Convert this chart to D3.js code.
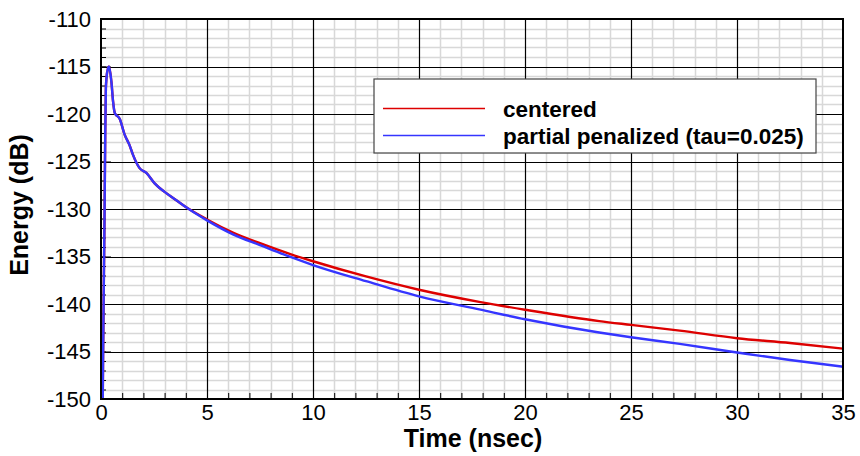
<!DOCTYPE html>
<html>
<head>
<meta charset="utf-8">
<script src="https://cdn.jsdelivr.net/npm/d3@7"></script>
<style>
  body { margin: 0; background: #fff; }
  svg { font-family: "Liberation Sans", Arial, sans-serif; }
</style>
</head>
<body>
<div id="chart"></div>
<script>
// time (nsec) sample points
var times = [0.05, 0.1, 0.17, 0.2, 0.23, 0.26, 0.33, 0.38, 0.49, 0.57, 0.65, 0.88, 1.12, 1.35, 1.51, 1.82, 2.14, 2.53, 3.0, 3.5, 4.0,
  5.0, 6.25, 7.5, 9.0, 10.0, 12.5, 15.0, 17.9, 20.0, 23.5, 25.0, 27.3, 30.0, 32.5, 35.0];
var centered = [-160, -145, -130, -122, -117.3, -116.2, -115.2, -115.0, -116.6, -118.7, -119.9, -120.5, -122.2, -123.3, -124.3, -125.7, -126.2, -127.3, -128.2, -129.0, -129.8,
  -131.1, -132.5, -133.6, -134.8, -135.5, -137.1, -138.5, -139.8, -140.6, -141.8, -142.2, -142.8, -143.6, -144.1, -144.7];
var penalized = [-160, -145, -130, -122, -117.3, -116.2, -115.2, -115.0, -116.6, -118.7, -119.9, -120.5, -122.2, -123.3, -124.3, -125.7, -126.2, -127.3, -128.2, -129.0, -129.8,
  -131.2, -132.7, -133.8, -135.1, -135.9, -137.6, -139.2, -140.6, -141.6, -143.0, -143.5, -144.2, -145.1, -145.9, -146.6];
var seriesNames = ["centered", "partial penalized (tau=0.025)"];
var xTicks = [0, 5, 10, 15, 20, 25, 30, 35];
var yTicks = [-150, -145, -140, -135, -130, -125, -120, -115, -110];

var margin = { top: 19, left: 101, right: 17, bottom: 57 },
    width = 860 - margin.left - margin.right,
    height = 456 - margin.top - margin.bottom;

var svg = d3.select("#chart")
  .append("svg")
  .attr("width", 860)
  .attr("height", 456)
  .append("g")
  .attr("transform", "translate(" + margin.left + "," + margin.top + ")");

var x = d3.scaleLinear().domain([0, 35]).range([0, width]);
var y = d3.scaleLinear().domain([-150, -110]).range([height, 0]);

// minor grid
svg.append("g").selectAll("line")
  .data(d3.range(1, 35).filter(function(d) { return d % 5 != 0; }))
  .enter().append("line")
  .attr("x1", function(d) { return Math.round(x(d)) + 0.5; })
  .attr("x2", function(d) { return Math.round(x(d)) + 0.5; })
  .attr("y1", 0).attr("y2", height)
  .attr("stroke", "#d8d8d8").attr("stroke-width", 1.5);

svg.append("g").selectAll("line")
  .data(d3.range(-149, -110).filter(function(d) { return d % 5 != 0; }))
  .enter().append("line")
  .attr("y1", function(d) { return Math.round(y(d)) + 0.5; })
  .attr("y2", function(d) { return Math.round(y(d)) + 0.5; })
  .attr("x1", 0).attr("x2", width)
  .attr("stroke", "#d8d8d8").attr("stroke-width", 1.5);

// major grid
svg.append("g").selectAll("line")
  .data(xTicks.slice(1, -1))
  .enter().append("line")
  .attr("x1", function(d) { return Math.round(x(d)) + 0.5; })
  .attr("x2", function(d) { return Math.round(x(d)) + 0.5; })
  .attr("y1", 0).attr("y2", height)
  .attr("stroke", "#000").attr("stroke-width", 1.2);

svg.append("g").selectAll("line")
  .data(yTicks.slice(1, -1))
  .enter().append("line")
  .attr("y1", function(d) { return Math.round(y(d)) + 0.5; })
  .attr("y2", function(d) { return Math.round(y(d)) + 0.5; })
  .attr("x1", 0).attr("x2", width)
  .attr("stroke", "#000").attr("stroke-width", 1.2);

// inward ticks
var yMinor = d3.range(-149, -110);
var xMinor = d3.range(1, 35);
svg.append("g")
  .call(d3.axisRight(y).tickValues(yMinor).tickSize(5).tickFormat(""))
  .call(function(g) { g.select(".domain").remove(); });
svg.append("g")
  .call(d3.axisRight(y).tickValues(yTicks).tickSize(10).tickFormat(""))
  .call(function(g) { g.select(".domain").remove(); });
svg.append("g")
  .attr("transform", "translate(0," + height + ")")
  .call(d3.axisTop(x).tickValues(xMinor).tickSize(6).tickFormat(""))
  .call(function(g) { g.select(".domain").remove(); });

// tick labels (plain hyphen for minus sign)
svg.append("g")
  .call(d3.axisLeft(y).tickValues(yTicks).tickSize(0).tickPadding(10)
    .tickFormat(function(d) { return String(d); }))
  .call(function(g) {
    g.select(".domain").remove();
    g.selectAll("text").style("font-size", "22px").attr("fill", "#000")
      .style("font-family", "Liberation Sans, Arial, sans-serif");
  });
svg.append("g")
  .attr("transform", "translate(0," + height + ")")
  .call(d3.axisBottom(x).tickValues(xTicks).tickSize(0).tickPadding(5)
    .tickFormat(function(d) { return String(d); }))
  .call(function(g) {
    g.select(".domain").remove();
    g.selectAll("text").style("font-size", "22px").attr("fill", "#000")
      .style("font-family", "Liberation Sans, Arial, sans-serif");
  });

// curves
svg.append("clipPath").attr("id", "clip")
  .append("rect").attr("width", width).attr("height", height);

var line = d3.line()
  .x(function(d) { return x(d[0]); })
  .y(function(d) { return y(d[1]); })
  .curve(d3.curveMonotoneX);

var colors = ["#dd0000", "#3535ff"];
[centered, penalized].forEach(function(vals, i) {
  svg.append("path")
    .datum(times.map(function(t, j) { return [t, vals[j]]; }))
    .attr("clip-path", "url(#clip)")
    .attr("d", line)
    .attr("fill", "none")
    .attr("stroke", colors[i])
    .attr("stroke-width", 2.4);
});

// frame
svg.append("rect")
  .attr("width", width).attr("height", height)
  .attr("fill", "none").attr("stroke", "#000").attr("stroke-width", 2);

// legend
var legend = svg.append("g").attr("transform", "translate(273,60)");
legend.append("rect")
  .attr("width", 442).attr("height", 74)
  .attr("fill", "#fff").attr("stroke", "#444").attr("stroke-width", 1.2);
seriesNames.forEach(function(name, i) {
  var row = legend.append("g").attr("transform", "translate(0," + (29.5 + i * 27) + ")");
  row.append("line")
    .attr("x1", 9).attr("x2", 111)
    .attr("stroke", colors[i]).attr("stroke-width", 1.5);
  row.append("text")
    .attr("x", 129).attr("y", 8)
    .style("font-size", "22.5px").style("font-weight", "bold")
    .text(name);
});

// axis titles
svg.append("text")
  .attr("x", width / 2 + 1).attr("y", height + 48)
  .attr("text-anchor", "middle")
  .style("font-size", "25px").style("font-weight", "bold")
  .text("Time (nsec)");
svg.append("text")
  .attr("transform", "translate(-73," + (height / 2 - 4) + ") rotate(-90)")
  .attr("text-anchor", "middle")
  .style("font-size", "25px").style("font-weight", "bold")
  .text("Energy (dB)");
</script>
</body>
</html>
